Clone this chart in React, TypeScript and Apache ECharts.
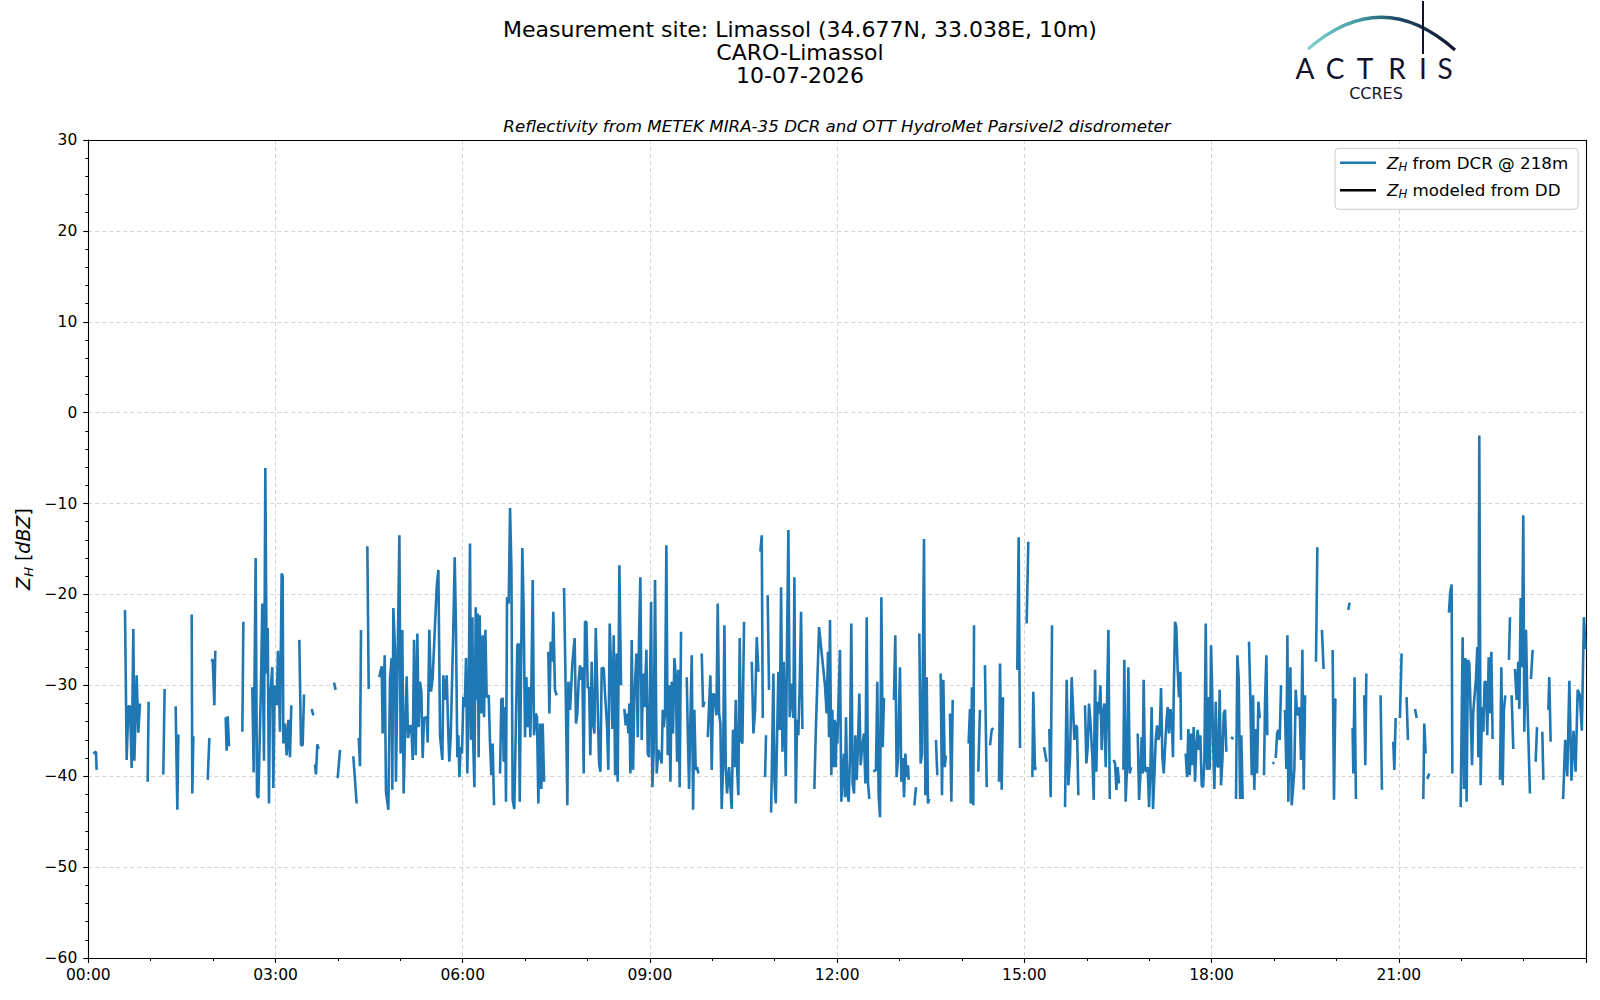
import React, { useEffect, useRef } from "react";
import * as echarts from "echarts";

// Time in minutes since 00:00, reflectivity in dBZ. Each inner array is a continuous segment.
const zhBlock0003: number[][][] = [
  [[4.8, -37.5], [7.4, -37.3], [8, -39.3]],
  [[35.3, -21.7], [36.9, -38.2], [38.5, -32.3], [40.1, -32.3], [41.7, -39.1], [43.3, -23.8], [44.3, -38.3], [46.5, -28.9], [48.1, -35.2], [49.7, -32.0]],
  [[57.1, -40.6], [58.0, -31.8]],
  [[72.1, -39.8], [73.4, -30.4]],
  [[84, -32.3], [85.6, -43.7], [86.6, -35.4]],
  [[99.4, -22.2], [100, -41.9], [101, -35.6]],
  [[114.8, -40.4], [116.4, -35.8]],
  [[118.6, -27.4], [119.6, -27.1], [121.2, -32.2], [122.1, -26.2]],
  [[132.1, -33.5], [133, -37.2], [134, -33.4], [135.3, -36.7]],
  [[148.1, -35.1], [149.1, -23.0]],
  [[157.7, -30.2], [159, -39.6], [160.9, -16.0], [162.2, -42.1], [163.5, -42.4], [166, -30.1], [167.3, -21.0], [168.9, -38.3], [170.2, -6.1], [171.5, -28.7], [172.5, -23.7], [173.7, -43.0], [174.7, -31.6], [176.9, -28.0], [177.9, -41.3], [179.2, -30.0], [181.1, -32.2], [182.4, -26.2], [184.3, -35.1], [185.9, -17.7], [186.9, -18.0], [187.5, -36.4], [189.1, -34.2], [190.7, -37.7], [192.3, -33.8], [193.9, -37.9], [195.2, -32.2]],
];

const zhBlock0306: number[][][] = [
  [[202.9, -25.0], [204.5, -36.6], [206.1, -36.6], [207.4, -31.0]],
  [[214.8, -32.6], [216.4, -33.3]],
  [[218, -38.7], [218.9, -39.8], [220.2, -36.5], [221.5, -37.0]],
  [[236.2, -29.7], [237.8, -30.5]],
  [[239.8, -40.2], [242, -37.1]],
  [[254.8, -37.8], [258, -43.0]],
  [[260, -35.8], [261.2, -38.9], [262.2, -23.9]],
  [[268.3, -14.7], [269.6, -30.4]],
  [[279.8, -29.1], [282.1, -27.9], [283, -35.3], [285, -26.7], [286.2, -41.7], [288.5, -43.7], [290.1, -29.2], [291.7, -27.0], [292.3, -41.5], [293.3, -21.5], [294.9, -26.1], [295.8, -40.6], [297.1, -29.8], [299.1, -13.5], [300.3, -37.5], [301.9, -23.9], [303.2, -41.9], [304.8, -34.2], [306.1, -29.0], [307.4, -35.8], [309.3, -34.4], [310.6, -34.6], [311.9, -38.2], [313.2, -25.0], [314.8, -37.7], [316.4, -24.3], [317.6, -34.6], [318.9, -29.6], [320.2, -30.7], [321.5, -38.0], [322.8, -33.6], [325.3, -33.5], [326.3, -36.3], [327.9, -23.9], [329.5, -30.7], [331.1, -29.2], [335, -19.1], [336.6, -17.3], [338.2, -35.6], [340.4, -38.2], [341.4, -28.9], [343, -31.6], [344.6, -28.9], [346.2, -35.5], [347.1, -38.4], [348.5, -35.5], [351, -23.6], [352.3, -15.9], [353.5, -23.7], [354.8, -37.9], [355.8, -35.5], [356.8, -40.1], [358, -36.8], [359.3, -37.5], [360.6, -31.3], [361.9, -32.4], [363.2, -27.0], [364.4, -39.7], [365.7, -31.6], [367, -14.4], [368, -36.0], [369.3, -22.5], [370.2, -36.8], [371.2, -41.2], [372.5, -21.4], [373.4, -31.6], [374.4, -22.1], [375.3, -37.9], [376.3, -22.3], [377.3, -30.9], [378.2, -33.1], [379.2, -24.5], [380.5, -33.5], [381.8, -23.9], [383, -31.3], [385, -31.1], [386.2, -36.2], [387.5, -39.9], [388.8, -36.4], [390.1, -43.2]],
];

const zhBlock0609: number[][][] = [
  [[395.9, -39.7], [397.1, -31.6], [398.4, -31.4], [399.4, -38.4], [400.7, -32.4], [401.6, -42.8], [402.6, -20.3], [404.2, -21.0], [405.5, -10.5], [406.8, -17.0], [408, -42.6], [409.6, -43.6], [412.5, -25.6], [413.8, -25.4], [414.8, -42.8], [416, -29.1], [417.3, -14.9], [418.6, -21.9], [419.9, -35.7], [421.2, -29.1], [422.5, -34.6], [423.7, -30.2], [425, -35.7], [426, -30.0], [427.3, -18.4], [428.5, -35.5], [430.2, -33.1], [431.4, -33.5], [432.7, -43.0], [434.3, -34.2], [435.6, -41.4], [436.9, -34.2], [438.2, -40.6]],
  [[442.3, -26.3], [443.3, -33.1], [444.6, -25.2], [446.2, -27.4], [447.1, -21.9], [448.7, -30.5], [450.3, -31.1]],
  [[457.4, -19.3], [459, -30.5], [460.6, -43.2], [461.6, -29.6], [463.2, -32.7], [465.4, -27.6], [467.6, -24.8], [468.9, -34.2], [470.2, -33.1], [471.5, -29.4], [472.8, -27.8], [473.8, -29.4], [475, -28.0], [476.3, -39.7], [477.6, -23.0], [478.9, -23.0], [480.2, -30.3], [481.5, -30.2], [482.7, -37.7], [484, -27.4], [485.3, -34.2], [486.6, -35.3], [487.9, -23.7], [489.5, -30.9], [491.1, -38.6], [492.4, -39.5], [493.6, -28.1], [495.6, -28.1], [496.8, -30.9], [498.8, -34.6], [500, -39.3], [501.3, -23.2], [502.6, -28.0], [503.9, -34.8], [505.2, -24.5], [506.5, -39.9], [508.1, -26.5], [509, -40.6], [510.6, -16.8], [512.2, -30.0]],
  [[515.4, -32.6], [516.7, -34.4], [518, -33.1], [519.3, -35.3], [520.2, -32.0], [521.2, -39.7], [522.5, -25.0], [523.8, -39.3], [525, -31.4], [527, -26.5], [528.3, -35.7], [529.5, -24.8], [530.8, -18.1], [532.1, -36.0], [533.4, -28.7], [534.7, -32.4], [536.6, -26.1], [537.9, -37.5], [539.2, -37.9], [541.1, -20.8], [542.4, -41.2], [543.6, -37.1], [544.9, -18.4], [546.5, -39.7], [548.1, -37.1], [551.3, -38.6], [552.3, -32.7], [553.3, -34.6], [554.5, -33.1], [555.8, -14.6], [557.1, -37.7], [558.4, -30.0], [559.7, -40.6], [560.9, -29.6], [562.2, -35.3], [563.5, -27.0], [564.8, -28.9], [566.1, -38.4], [567.4, -28.3], [568.6, -41.2], [569.9, -24.1]],
];

const zhBlock0912: number[][][] = [
  [[575.4, -29.1], [576.3, -34.6], [577.6, -41.4], [578.9, -33.8], [580.2, -26.7], [581.5, -43.7], [582.7, -32.7], [584, -39.3], [585.3, -39.0], [586.6, -39.7]],
  [[589.8, -26.5], [591.1, -32.4], [592.4, -31.8]],
  [[595.6, -35.7], [596.8, -32.4], [598.1, -28.9], [599.4, -39.3], [600.7, -30.9], [602, -31.1], [603.9, -33.3], [605.2, -21.0], [606.5, -33.1], [607.7, -34.2], [609, -43.6], [610.3, -39.0], [611.6, -23.4], [612.9, -39.0], [614.1, -41.9], [616.1, -39.0], [618.6, -43.6], [619.9, -34.9], [621.2, -39.0], [622.5, -31.6], [623.8, -39.0], [625, -42.1], [626.3, -24.8], [627.6, -36.0], [628.9, -36.4], [630.5, -23.0]],
  [[637.9, -27.4], [639.5, -35.3], [641.1, -32.7], [642.7, -24.7], [644.3, -28.5]],
  [[646.2, -15.3], [647.5, -13.5], [648.5, -33.6]],
  [[650.7, -40.1], [651.6, -35.5]],
  [[653.2, -20.1], [654.5, -30.5]],
  [[656.5, -44.0], [658.7, -28.7], [659.7, -40.4], [661, -43.0], [662.2, -36.0], [663.5, -28.5], [664.8, -34.9], [666.1, -19.2], [667.4, -37.3], [668.6, -27.4], [670.6, -40.0], [671.8, -25.6], [673.1, -12.9], [674.4, -33.5], [676.3, -29.8], [677.9, -33.6], [678.9, -18.1], [680.2, -43.0], [681.5, -33.8], [682.7, -35.5], [684, -30.0], [685.3, -21.9], [686.6, -34.8]],
  [[698.1, -41.4], [699.4, -35.3], [702.6, -23.6], [708.3, -30.0], [709.9, -33.1], [711.2, -26.3], [712.2, -35.7], [713.1, -22.8], [714.4, -39.9], [715.4, -32.7], [716.3, -39.0], [717.6, -33.8], [718.6, -39.0], [719.5, -34.0], [720.2, -36.4], [722.7, -26.1], [724, -42.8], [725.3, -40.0], [726.6, -37.5], [727.5, -42.3], [728.5, -33.5], [729.8, -41.9], [731.1, -42.8], [732.3, -38.0], [733.6, -23.2], [734.9, -40.8], [736.2, -41.9], [737.5, -35.5], [738.8, -40.4], [740, -36.8], [741.3, -30.9], [742.6, -38.8], [743.9, -37.0], [745.8, -35.3], [747.1, -40.8], [748.4, -22.5], [749.7, -40.8], [750.9, -42.5]],
];

const zhBlock1215: number[][][] = [
  [[754.8, -39.5], [757.3, -39.3], [758.6, -29.6], [759.9, -42.1], [761.2, -44.5], [762.5, -20.3], [763.8, -36.8], [765, -31.4]],
  [[774.6, -31.6], [775.9, -24.5], [777.2, -40.1], [778.5, -38.0], [780.4, -28.0], [781.7, -40.6], [783, -38.0], [784.3, -42.3], [785.6, -37.5], [786.8, -40.1], [788.1, -38.8], [788.8, -40.4]],
  [[794.2, -43.2], [795.8, -41.2]],
  [[799, -24.3], [800.3, -38.6], [801.6, -37.5], [803.5, -13.9], [804.8, -42.1], [806.1, -29.1], [807.3, -43.0], [808.6, -42.5]],
  [[815, -36.0], [816.3, -39.9]],
  [[819.5, -28.7], [820.8, -42.1], [822.1, -29.4], [823.4, -39.0], [824.6, -37.7]],
  [[828.5, -33.1], [829.8, -42.8], [831.1, -31.6]],
  [[846.4, -36.4], [847.7, -32.6], [848.4, -43.0], [849.6, -30.2], [850.9, -43.2], [851.6, -23.4]],
  [[855.7, -39.5], [857.3, -32.7]],
  [[862.1, -27.8], [863.8, -41.2]],
  [[867, -36.6], [868.6, -34.9], [870.2, -34.7]],
  [[875.6, -40.6], [876.6, -27.6], [878.2, -41.5], [879.5, -31.3]],
  [[893.2, -28.3], [894.5, -13.7], [895.8, -36.9]],
];

const zhBlock1518: number[][][] = [
  [[902.2, -23.2], [903.8, -14.2]],
  [[907.7, -40.1], [908.6, -30.7], [910.2, -39.3], [911.2, -39.0]],
  [[918.9, -36.8], [921.4, -38.4]],
  [[924, -34.8], [925.3, -42.3], [926.6, -23.4]],
  [[939.1, -43.4], [940.7, -29.4], [942.3, -41.0], [943.9, -37.9], [945.5, -29.1], [948.1, -36.0], [949.4, -34.4], [950.6, -34.6], [951.9, -42.1]],
  [[958.3, -32.2], [959.6, -38.6], [960.9, -36.8], [962.2, -32.0], [963.5, -34.0], [965.4, -37.9], [966.7, -42.6], [968, -28.3], [969.2, -39.5], [970.5, -31.8], [971.8, -33.1], [973.1, -30.0], [974.4, -37.1], [975.6, -33.1], [976.9, -32.0], [978.2, -39.0], [979.5, -31.8], [980.8, -23.9], [982.1, -42.5]],
  [[985.9, -38.2], [987.2, -38.6], [988.5, -41.5], [989.7, -39.0], [991, -40.8]],
  [[995.2, -39.3], [996.1, -27.2], [997.4, -42.8], [998.7, -39.0], [1000, -28.0], [1001.3, -39.7], [1002.6, -39.0]],
  [[1009, -35.3], [1010.3, -42.6], [1011.5, -40.0], [1012.8, -35.7], [1013.8, -39.7], [1014.7, -29.4], [1016, -39.3], [1017.3, -39.5], [1018.6, -39.0], [1019.9, -43.4], [1021.2, -39.0], [1022.4, -32.4], [1023.7, -43.6], [1025, -40.0], [1026.3, -36.0], [1027.6, -34.4], [1028.8, -36.0], [1030.1, -35.3], [1031.4, -30.3], [1032.7, -37.9], [1034, -39.7], [1035.3, -36.8], [1036.5, -34.2], [1037.8, -32.4], [1039.1, -35.3], [1040.4, -32.6], [1041.7, -33.8], [1042.9, -37.9], [1043.6, -31.1], [1044.9, -23.0], [1046.1, -23.6], [1047.4, -28.3], [1048.7, -31.3], [1050, -28.5], [1050.6, -36.0]],
  [[1055.1, -37.5], [1056.4, -40.1], [1057.7, -34.8], [1059, -39.9], [1060.2, -35.3], [1061.5, -38.8], [1062.8, -34.6], [1064.1, -40.6], [1065.4, -36.6], [1066.7, -34.9], [1067.9, -37.1], [1069.2, -35.5], [1070.5, -41.0], [1071.8, -41.2], [1073.1, -38.2], [1074.4, -23.2], [1075.6, -39.3], [1076.9, -31.3], [1078.2, -39.3], [1079.5, -25.6], [1080.4, -29.6], [1081.4, -36.0], [1082.7, -41.4], [1084, -31.8], [1085.2, -38.8], [1086.5, -39.0], [1087.8, -30.5], [1089.1, -41.0], [1090.4, -38.2], [1091.7, -33.1], [1092.9, -32.7], [1094.2, -37.3]],
];

const zhBlock1821: number[][][] = [
  [[1098.7, -35.7], [1101, -35.9]],
  [[1103.5, -42.5], [1104.8, -26.7], [1106.1, -29.2], [1107.4, -42.5], [1108.6, -35.5], [1109.9, -42.5]],
  [[1116, -25.2], [1117.3, -31.6], [1118.6, -39.9], [1119.9, -31.1], [1121.1, -41.5], [1122.4, -34.8], [1123.7, -39.7], [1125, -31.8], [1126.3, -33.6]],
  [[1130.4, -39.9], [1131.4, -31.8], [1132.7, -26.7], [1133.6, -35.5]],
  [[1138.5, -38.6], [1140.4, -38.5]],
  [[1141.7, -38.0], [1143, -35.3], [1144.2, -34.9], [1145.5, -36.0], [1146.8, -30.0]],
  [[1150.6, -32.7], [1151.9, -39.2], [1152.9, -24.5], [1153.8, -42.8], [1155.8, -28.0], [1157, -43.2], [1158.3, -41.4], [1159.6, -39.2], [1160.9, -30.5], [1162.2, -33.1], [1163.5, -33.3], [1164.7, -32.4], [1166, -38.2], [1167.3, -26.1], [1168.6, -41.5], [1169.9, -31.1]],
  [[1180.4, -27.4], [1181.7, -14.8]],
  [[1186.1, -23.9], [1187.7, -28.2]],
  [[1196.4, -26.1], [1197.7, -42.6], [1199, -31.6], [1199.9, -31.5]],
  [[1211.5, -21.7], [1212.7, -20.9]],
  [[1215.6, -34.7], [1216.3, -39.7], [1217.5, -29.1], [1218.8, -42.5]],
  [[1226.8, -31.1], [1227.8, -38.8], [1228.8, -28.7]],
  [[1242.5, -31.1], [1243.8, -41.5]],
  [[1254.7, -36.2], [1255.7, -39.3], [1257, -33.6]],
];

const zhBlock2124: number[][][] = [
  [[1261.1, -33.6], [1262.7, -26.5]],
  [[1267.5, -31.3], [1268.8, -36.0]],
  [[1275.6, -32.6], [1277.2, -33.6]],
  [[1283.6, -42.5], [1284.5, -34.2], [1285.8, -37.5]],
  [[1287.4, -40.3], [1289.3, -39.7]],
  [[1308.2, -22.0], [1309.5, -19.7], [1310.8, -18.9], [1311.5, -39.7]],
  [[1319.5, -43.4], [1321.4, -24.7], [1322.7, -41.4], [1324, -27.0], [1325.2, -42.8], [1326.5, -27.2], [1327.8, -27.6], [1329.1, -33.0], [1330.4, -38.8], [1331.6, -32.9], [1334.2, -29.3], [1335.5, -25.8], [1336.5, -37.9], [1337.4, -2.5], [1338.7, -41.0], [1340, -32.4], [1341.3, -35.1], [1342.5, -29.6], [1343.8, -29.6], [1345.1, -35.5], [1346.4, -26.9], [1347.7, -33.1], [1349, -26.3], [1350.2, -35.9]],
  [[1357.3, -40.4], [1358.6, -28.0], [1359.9, -41.0], [1361.1, -32.7], [1362.4, -31.1]],
  [[1365.9, -27.2], [1366.9, -22.5]],
  [[1368.5, -31.1], [1370.1, -37.0]],
  [[1371.7, -28.2], [1373.3, -31.6], [1374.9, -27.4], [1375.9, -32.6], [1377.2, -20.4], [1378.4, -28.0], [1379.7, -11.3], [1380.7, -35.1], [1382.3, -23.9], [1383.6, -31.6], [1386.1, -41.9]],
  [[1387.1, -29.3], [1388.7, -26.1]],
  [[1391.6, -38.4], [1392.9, -34.6]],
  [[1398, -35.1], [1399, -40.4]],
  [[1403.8, -32.7], [1404.7, -29.1], [1406, -36.2]],
  [[1418, -42.5], [1420, -36], [1422, -40], [1424, -29.5], [1426, -40.5], [1428, -35], [1430, -39.5], [1432, -30.5], [1434, -31], [1436, -35], [1438, -22.5], [1439.5, -26]],
];

const yTicks = [-60, -50, -40, -30, -20, -10, 0, 10, 20, 30];
const titleLines = ["Measurement site: Limassol (34.677N, 33.038E, 10m)", "CARO-Limassol", "10-07-2026"];
const subTitle = "Reflectivity from METEK MIRA-35 DCR and OTT HydroMet Parsivel2 disdrometer";
const logoLetters = ["A", "C", "T", "R", "I", "S"];

const FONT = "DejaVu Sans";

function buildLine(): any[] {
  const blocks = [zhBlock0003, zhBlock0306, zhBlock0609, zhBlock0912, zhBlock1215, zhBlock1518, zhBlock1821, zhBlock2124];
  const out: any[] = [];
  blocks.forEach((b) =>
    b.forEach((seg) => {
      if (out.length) out.push([seg[0][0], "-"]);
      seg.forEach((p) => out.push([p[0], p[1]]));
    })
  );
  return out;
}

export default function App() {
  const ref = useRef<HTMLDivElement>(null);
  useEffect(() => {
    if (!ref.current) return;
    const chart = echarts.init(ref.current, undefined, { renderer: "svg" });
    const logoX = [1305, 1335, 1365, 1397, 1423, 1445];
    const graphic: any[] = [
      ...titleLines.map((t, i) => ({
        type: "text",
        style: { text: t, x: 800, y: [29.5, 52.5, 75.5][i], align: "center", verticalAlign: "middle", fontSize: 22, fontFamily: FONT, fill: "#000" },
      })),
      {
        type: "text",
        style: { text: subTitle, x: 837, y: 126, align: "center", verticalAlign: "middle", fontSize: 16.7, fontStyle: "italic", fontFamily: FONT, fill: "#000" },
      },
      {
        type: "text",
        x: 22.5,
        y: 549,
        rotation: Math.PI / 2,
        style: {
          text: "{i|Z}{s|H} [{i|dBZ}]",
          align: "center",
          verticalAlign: "middle",
          fontSize: 19,
          fontFamily: FONT,
          fill: "#000",
          rich: {
            i: { fontStyle: "italic", fontSize: 19, fontFamily: FONT, lineHeight: 24, verticalAlign: "middle" },
            s: { fontStyle: "italic", fontSize: 13, fontFamily: FONT, lineHeight: 24, verticalAlign: "bottom" },
          },
        },
      },
      {
        type: "bezierCurve",
        shape: { x1: 1308, y1: 49, cpx1: 1382, cpy1: -15, x2: 1455, y2: 50 },
        style: {
          fill: "none",
          lineWidth: 3.2,
          stroke: new echarts.graphic.LinearGradient(0, 0, 1, 0, [
            { offset: 0, color: "#86d2cd" },
            { offset: 0.35, color: "#3f9aa3" },
            { offset: 0.6, color: "#1f4a66" },
            { offset: 1, color: "#12122e" },
          ]),
        },
      },
      { type: "line", shape: { x1: 1423, y1: 1, x2: 1423, y2: 54 }, style: { stroke: "#12122e", lineWidth: 2 } },
      ...logoLetters.map((l, i) => ({
        type: "text",
        style: { text: l, x: logoX[i], y: 68, align: "center", verticalAlign: "middle", fontSize: 28, fontFamily: "Lato", fill: "#12122e" },
      })),
      {
        type: "text",
        style: { text: "CCRES", x: 1376, y: 93, align: "center", verticalAlign: "middle", fontSize: 16, fontFamily: FONT, fill: "#12122e" },
      },
    ];

    const legendRich = {
      g: { width: 6, fontSize: 16.7, lineHeight: 20 },
      i: { fontStyle: "italic", fontSize: 16.7, fontFamily: FONT, lineHeight: 20, verticalAlign: "middle", color: "#000" },
      s: { fontStyle: "italic", fontSize: 11.7, fontFamily: FONT, lineHeight: 20, verticalAlign: "bottom", color: "#000" },
      t: { fontSize: 16.7, fontFamily: FONT, lineHeight: 20, verticalAlign: "middle", color: "#000" },
    };

    const axisCommonY = {
      type: "value",
      min: -60,
      max: 30,
      interval: 10,
    };
    const spine = { show: true, onZero: false, lineStyle: { color: "#000", width: 1.1 } };

    chart.setOption({
      animation: false,
      textStyle: { fontFamily: FONT },
      grid: { left: 88.3, right: 14, top: 140, bottom: 42, containLabel: false },
      graphic,
      legend: {
        orient: "vertical",
        left: 1335,
        top: 148.3,
        padding: [6, 10, 9, 5],
        itemGap: 9,
        itemWidth: 36,
        itemHeight: 2.5,
        icon: "rect",
        selectedMode: false,
        borderColor: "#cccccc",
        borderWidth: 1,
        borderRadius: 4,
        backgroundColor: "rgba(255,255,255,0.85)",
        data: ["dcr", "dd"],
        formatter: (name: string) =>
          name === "dcr" ? "{g|}{i|Z}{s|H}{t| from DCR @ 218m}" : "{g|}{i|Z}{s|H}{t| modeled from DD}",
        textStyle: { fontSize: 16.7, color: "#000", rich: legendRich },
      },
      xAxis: [
        {
          type: "value",
          min: 0,
          max: 1440,
          interval: 180,
          axisLine: spine,
          axisTick: { show: true, length: 5, lineStyle: { color: "#000", width: 1.1 } },
          minorTick: { show: true, splitNumber: 3, length: 3, lineStyle: { color: "#000", width: 1 } },
          axisLabel: {
            showMaxLabel: false,
            margin: 9,
            fontSize: 15.5,
            color: "#000",
            fontFamily: FONT,
            formatter: (v: number) => String(Math.round(v / 60)).padStart(2, "0") + ":00",
          },
          splitLine: { show: true, lineStyle: { color: "#d4d4d4", type: [4, 3], width: 1 } },
        },
        {
          type: "value",
          position: "top",
          min: 0,
          max: 1440,
          interval: 180,
          axisLine: spine,
          axisTick: { show: false },
          axisLabel: { show: false },
          splitLine: { show: false },
        },
      ],
      yAxis: [
        {
          ...axisCommonY,
          axisLine: spine,
          axisTick: { show: true, length: 5, lineStyle: { color: "#000", width: 1.1 } },
          minorTick: { show: true, splitNumber: 5, length: 3, lineStyle: { color: "#000", width: 1 } },
          axisLabel: {
            margin: 11,
            fontSize: 15.5,
            color: "#000",
            fontFamily: FONT,
            formatter: (v: number) => (yTicks.includes(v) && v < 0 ? "\u2212" + Math.abs(v) : String(v)),
          },
          splitLine: { show: true, lineStyle: { color: "#d4d4d4", type: [4, 3], width: 1 } },
        },
        {
          ...axisCommonY,
          position: "right",
          axisLine: spine,
          axisTick: { show: false },
          axisLabel: { show: false },
          splitLine: { show: false },
        },
      ],
      series: [
        {
          name: "dcr",
          type: "line",
          data: buildLine(),
          showSymbol: false,
          symbol: "none",
          connectNulls: false,
          color: "#1f77b4",
          lineStyle: { color: "#1f77b4", width: 2.6 },
          clip: true,
          z: 3,
        },
        {
          name: "dd",
          type: "line",
          data: [],
          symbol: "none",
          color: "#000",
          lineStyle: { color: "#000", width: 2.1 },
        },
      ],
    });
    return () => chart.dispose();
  }, []);
  return <div ref={ref} style={{ position: "absolute", left: 0, top: 0, width: 1600, height: 1000, background: "#fff" }} />;
}
